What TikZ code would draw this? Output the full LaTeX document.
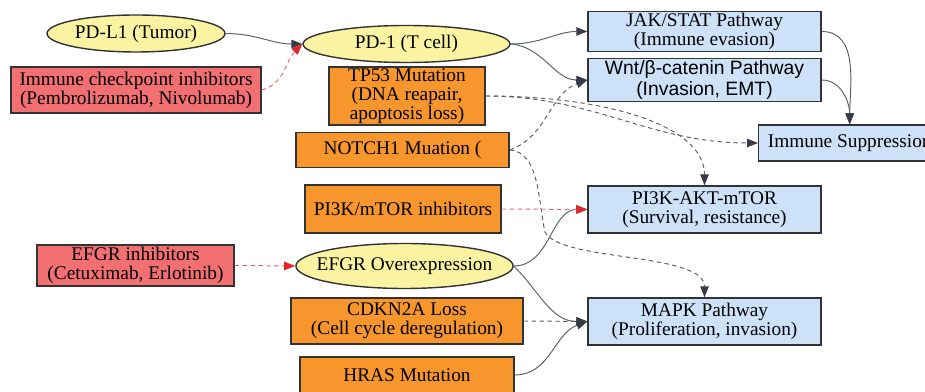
\documentclass[tikz,border=0pt]{standalone}
\usepackage{fontspec}
\setmainfont{Liberation Serif}
\newfontfamily\wntfont{Liberation Sans}
\usetikzlibrary{shapes.geometric,arrows.meta}

\definecolor{ovalfill}{HTML}{FAF4A2}
\definecolor{mutfill}{HTML}{F7962C}
\definecolor{drugfill}{HTML}{F26F72}
\definecolor{pathfill}{HTML}{CDE1F8}
\definecolor{linegray}{HTML}{5A5F68}
\definecolor{tipgray}{HTML}{363B45}
\definecolor{drugred}{HTML}{E0262A}

\begin{document}
\begin{tikzpicture}[x=0.2mm,y=0.2mm,
	every node/.style={font=\fontsize{11}{10.8}\selectfont, align=center, draw=black!80, line width=0.8pt, inner sep=1pt},
	oval/.style={ellipse, fill=ovalfill, inner sep=0pt},
	mutbox/.style={rectangle, fill=mutfill},
	drugbox/.style={rectangle, fill=drugfill},
	pathbox/.style={rectangle, fill=pathfill, minimum width=46.6mm},
	link/.style={draw=linegray, line width=0.55pt, -{Triangle[length=2.2mm,width=1.7mm,color=tipgray]}},
	dashlink/.style={link, dash pattern=on 2.5pt off 2pt},
	druglink/.style={draw=drugred!70, line width=0.55pt, dash pattern=on 2.5pt off 2pt, -{Triangle[length=2.2mm,width=1.7mm,color=drugred]}}
]

	\useasboundingbox (0,0) rectangle (925,392);

	\node[oval, minimum width=35.6mm, minimum height=7.4mm] (pdl1) at (136,358.5) {PD-L1 (Tumor)};
	\node[oval, minimum width=41.4mm, minimum height=7.4mm] (pd1) at (406.5,348) {PD-1 (T cell)};
	\node[drugbox, minimum width=50mm, minimum height=9.2mm] (ici) at (136,302) {Immune checkpoint inhibitors\\(Pembrolizumab, Nivolumab)};
	\node[mutbox, minimum width=31.2mm, minimum height=11.4mm] (tp53) at (407,296) {TP53 Mutation\\(DNA reapair,\\apoptosis loss)};
	\node[mutbox, minimum width=42.6mm, minimum height=7mm] (notch) at (402.5,242) {NOTCH1 Muation (};
	\node[mutbox, minimum width=39.2mm, minimum height=9.6mm] (pimtor) at (403,183) {PI3K/mTOR inhibitors};
	\node[drugbox, minimum width=39.4mm, minimum height=8.2mm] (egfri) at (135.5,126.5) {EFGR inhibitors\\(Cetuximab, Erlotinib)};
	\node[oval, inner xsep=-2.2mm, minimum width=43.4mm, minimum height=9mm] (egfro) at (404.5,126) {EFGR Overexpression};
	\node[mutbox, minimum width=46.4mm, minimum height=9.2mm] (cdkn) at (407,71) {CDKN2A Loss\\(Cell cycle deregulation)};
	\node[mutbox, minimum width=42.8mm, minimum height=7.2mm] (hras) at (407,17) {HRAS Mutation};

	\node[pathbox, minimum height=7.4mm] (jak) at (704.5,360.5) {JAK/STAT Pathway\\(Immune evasion)};
	\node[pathbox, minimum height=7.6mm, font=\wntfont\fontsize{11}{12}\selectfont] (wnt) at (704.5,312) {Wnt/β-catenin Pathway\\(Invasion, EMT)};
	\node[pathbox, anchor=west, minimum width=36.4mm, minimum height=7.2mm] (immsup) at (758,249) {Immune Suppression};
	\node[pathbox, minimum height=9.4mm] (pi3k) at (704.5,182.5) {PI3K-AKT-mTOR\\(Survival, resistance)};
	\node[pathbox, minimum height=9.4mm] (mapk) at (704.5,70.5) {MAPK Pathway\\(Proliferation, invasion)};

	\draw[link] (pdl1.east) to[out=0,in=180] (pd1.west);
	\draw[druglink] (ici.east) to[out=15,in=225] (pd1.west);
	\draw[link] (pd1.east) to[out=0,in=180] (jak.west);
	\draw[link] (pd1.east) to[out=-5,in=180] (wnt.west);
	\draw[link] (jak.east) to[out=0,in=90] (immsup.north);
	\draw[link] (wnt.east) to[out=0,in=90] (immsup.north);
	\draw[dashlink] (tp53.east) to[out=0,in=180] (immsup.west);
	\draw[dashlink] (tp53.east) .. controls +(120,0) and +(0,60) .. (pi3k.north);
	\draw[dashlink] (notch.east) to[out=20,in=200] (wnt.west);
	\draw[dashlink] (notch.east) .. controls (540,240) and (538,190) .. (545,160) .. controls (560,130) and (704.5,140) .. (mapk.north);
	\draw[link] (egfro.east) to[out=0,in=180] (pi3k.west);
	\draw[link] (egfro.east) to[out=-45,in=180] (mapk.west);
	\draw[dashlink] (cdkn.east) -- (mapk.west);
	\draw[link] (hras.east) to[out=0,in=200] (mapk.west);
	\foreach \a/\b in {pimtor/pi3k, egfri/egfro}{
		\draw[druglink] (\a.east) -- (\b.west);
	}

\end{tikzpicture}
\end{document}
